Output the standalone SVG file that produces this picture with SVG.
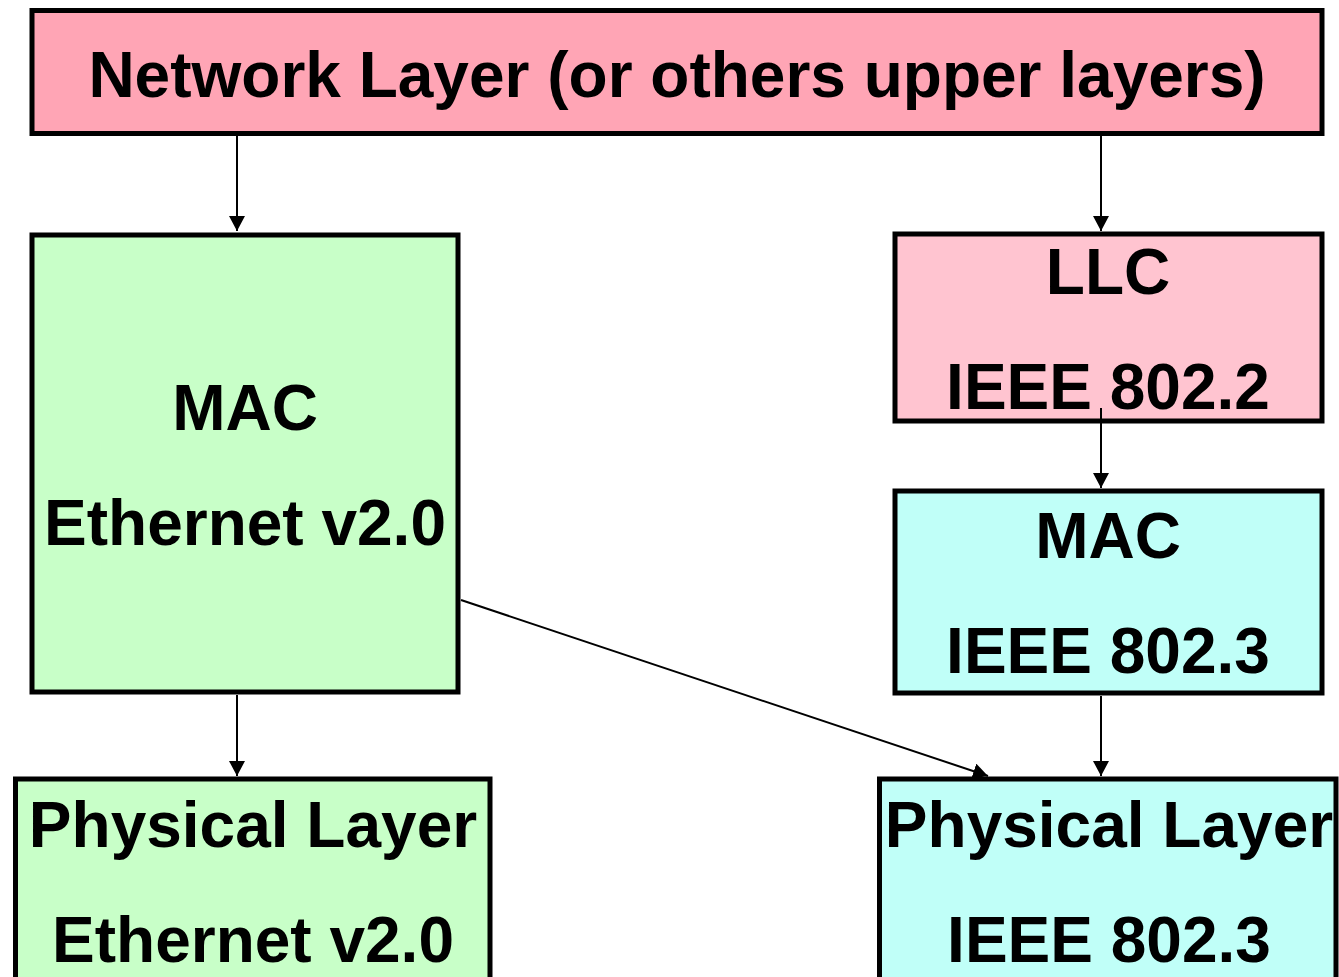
<svg xmlns="http://www.w3.org/2000/svg" width="1339" height="977" viewBox="0 0 1339 977">
<style>
.box{stroke:#000;stroke-width:5}
.t{font-family:"Liberation Sans",Arial,sans-serif;font-weight:bold;font-size:64px;fill:#000;text-anchor:middle}
.c{stroke:#000;stroke-width:2;fill:none;marker-end:url(#ah)}
</style>
<defs>
<marker id="ah" markerUnits="userSpaceOnUse" markerWidth="16" markerHeight="16" refX="15" refY="8" orient="auto">
<path d="M0,0 L15,8 L0,16 z" fill="#000"/>
</marker>
</defs>
<rect width="1339" height="977" fill="#fff"/>
<g id="network">
<rect class="box" x="32" y="10.5" width="1290" height="123" fill="#FFA5B5"/>
<text class="t" x="677" y="97" font-size="65">Network Layer (or others upper layers)</text>
</g>
<g id="mac-eth">
<rect class="box" x="32" y="235" width="426" height="457" fill="#C8FFC8"/>
<text class="t" x="245" y="430">MAC</text>
<text class="t" x="245" y="545">Ethernet v2.0</text>
</g>
<g id="llc">
<rect class="box" x="895" y="234" width="427" height="187" fill="#FFC4D0"/>
<text class="t" x="1108" y="294">LLC</text>
<text class="t" x="1108" y="409">IEEE 802.2</text>
</g>
<g id="mac-ieee">
<rect class="box" x="895" y="491" width="427" height="202" fill="#C0FFF8"/>
<text class="t" x="1108" y="558">MAC</text>
<text class="t" x="1108" y="673">IEEE 802.3</text>
</g>
<g id="phy-eth">
<rect class="box" x="15.5" y="779" width="474.5" height="210" fill="#C8FFC8"/>
<text class="t" x="253" y="847">Physical Layer</text>
<text class="t" x="253" y="962">Ethernet v2.0</text>
</g>
<g id="phy-ieee">
<rect class="box" x="879.5" y="779" width="456.5" height="210" fill="#C0FFF8"/>
<text class="t" x="1109" y="847">Physical Layer</text>
<text class="t" x="1109" y="962">IEEE 802.3</text>
</g>
<g id="connectors">
<line class="c" x1="237" y1="136" x2="237" y2="231"/>
<line class="c" x1="1101" y1="136" x2="1101" y2="231"/>
<line class="c" x1="1101" y1="408" x2="1101" y2="488"/>
<line class="c" x1="237" y1="695" x2="237" y2="776"/>
<line class="c" x1="1101" y1="696" x2="1101" y2="776"/>
<line class="c" x1="461" y1="600" x2="988" y2="776"/>
</g>
</svg>
